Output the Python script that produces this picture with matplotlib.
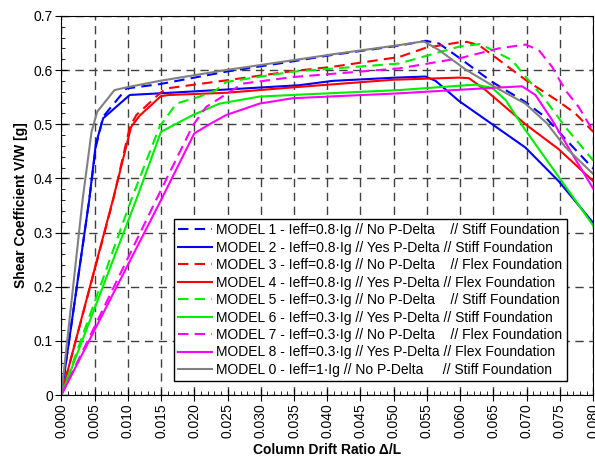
import matplotlib
matplotlib.use("Agg")
import matplotlib.pyplot as plt
from matplotlib.ticker import MultipleLocator, FormatStrFormatter, FuncFormatter

plt.rcParams["font.family"] = ["Liberation Sans", "DejaVu Sans"]

# drift ratio / shear coefficient
m1_x = [0, 0.0042, 0.0052, 0.0063, 0.0098, 0.0148, 0.0248, 0.0348, 0.0408, 0.0508, 0.0548,
        0.0568, 0.0598, 0.0648, 0.0698, 0.0728, 0.0758, 0.080]
m1_y = [0, 0.36, 0.458, 0.514, 0.566, 0.574, 0.597, 0.616, 0.628, 0.645, 0.654,
        0.649, 0.623, 0.578, 0.541, 0.513, 0.473, 0.418]

m2_x = [0, 0.0042, 0.0052, 0.0063, 0.0103, 0.0148, 0.0248, 0.0358, 0.0408, 0.0503, 0.0548,
        0.0563, 0.0598, 0.0648, 0.0698, 0.0748, 0.080]
m2_y = [0, 0.36, 0.464, 0.511, 0.554, 0.557, 0.564, 0.572, 0.580, 0.586, 0.588,
        0.580, 0.543, 0.500, 0.457, 0.395, 0.318]

m3_x = [0, 0.0078, 0.0103, 0.0113, 0.0148, 0.0158, 0.0248, 0.0348, 0.0408, 0.0508, 0.0548,
        0.0598, 0.0610, 0.0628, 0.0648, 0.0698, 0.0748, 0.0773, 0.080]
m3_y = [0, 0.36, 0.495, 0.517, 0.557, 0.566, 0.581, 0.598, 0.606, 0.624, 0.641,
        0.651, 0.652, 0.646, 0.628, 0.582, 0.542, 0.520, 0.486]

m4_x = [0, 0.00775, 0.0105, 0.0118, 0.0150, 0.0163, 0.0248, 0.0348, 0.0498, 0.0598, 0.0613,
        0.0638, 0.0698, 0.0748, 0.080]
m4_y = [0, 0.36, 0.495, 0.516, 0.552, 0.554, 0.558, 0.568, 0.582, 0.586, 0.585,
        0.563, 0.500, 0.454, 0.395]

m5_x = [0, 0.0105, 0.0148, 0.0173, 0.0208, 0.0233, 0.0248, 0.0348, 0.0508, 0.0598, 0.0630,
        0.0648, 0.0678, 0.0698, 0.0728, 0.0758, 0.080]
m5_y = [0, 0.36, 0.496, 0.538, 0.551, 0.563, 0.578, 0.597, 0.612, 0.643, 0.648,
        0.637, 0.618, 0.588, 0.545, 0.495, 0.433]

m6_x = [0, 0.01125, 0.0150, 0.0198, 0.0238, 0.0298, 0.0348, 0.0508, 0.0598, 0.0623, 0.0648,
        0.0668, 0.0698, 0.0748, 0.080]
m6_y = [0, 0.36, 0.486, 0.517, 0.538, 0.551, 0.554, 0.563, 0.571, 0.573, 0.567,
        0.545, 0.489, 0.403, 0.313]

m7_x = [0, 0.01425, 0.0198, 0.0218, 0.0273, 0.0348, 0.0508, 0.0600, 0.0658, 0.0698, 0.0718,
        0.0738, 0.0758, 0.0778, 0.080]
m7_y = [0, 0.36, 0.498, 0.532, 0.575, 0.587, 0.603, 0.622, 0.640, 0.647, 0.637,
        0.606, 0.563, 0.532, 0.487]

m8_x = [0, 0.015, 0.0200, 0.0223, 0.0248, 0.0298, 0.0348, 0.0508, 0.0633, 0.0693, 0.0713,
        0.0738, 0.0768, 0.080]
m8_y = [0, 0.36, 0.483, 0.500, 0.517, 0.538, 0.548, 0.557, 0.566, 0.570, 0.554,
        0.508, 0.446, 0.381]

m0_x = [0, 0.0032, 0.00455, 0.0054, 0.0080, 0.0098, 0.0148, 0.0248, 0.0348, 0.0408, 0.0508,
        0.0545, 0.0568, 0.0608, 0.0653, 0.0698, 0.0730, 0.0758, 0.080]
m0_y = [0, 0.36, 0.486, 0.523, 0.563, 0.568, 0.580, 0.600, 0.618, 0.629, 0.646,
        0.653, 0.637, 0.601, 0.568, 0.538, 0.502, 0.458, 0.408]

labels = [
    "MODEL 1 - Ieff=0.8\u00b7Ig // No P-Delta    // Stiff Foundation",
    "MODEL 2 - Ieff=0.8\u00b7Ig // Yes P-Delta // Stiff Foundation",
    "MODEL 3 - Ieff=0.8\u00b7Ig // No P-Delta    // Flex Foundation",
    "MODEL 4 - Ieff=0.8\u00b7Ig // Yes P-Delta // Flex Foundation",
    "MODEL 5 - Ieff=0.3\u00b7Ig // No P-Delta    // Stiff Foundation",
    "MODEL 6 - Ieff=0.3\u00b7Ig // Yes P-Delta // Stiff Foundation",
    "MODEL 7 - Ieff=0.3\u00b7Ig // No P-Delta    // Flex Foundation",
    "MODEL 8 - Ieff=0.3\u00b7Ig // Yes P-Delta // Flex Foundation",
    "MODEL 0 - Ieff=1\u00b7Ig // No P-Delta     // Stiff Foundation",
]

series = [
    (m1_x, m1_y, "#0000ff", True),
    (m2_x, m2_y, "#0000ff", False),
    (m3_x, m3_y, "#ff0000", True),
    (m4_x, m4_y, "#ff0000", False),
    (m5_x, m5_y, "#00ee00", True),
    (m6_x, m6_y, "#00ee00", False),
    (m7_x, m7_y, "#ff00ff", True),
    (m8_x, m8_y, "#ff00ff", False),
    (m0_x, m0_y, "#808080", False),
]

fig = plt.figure(figsize=(5.95, 4.66), dpi=100)
ax = fig.add_axes([0.103, 0.152, 0.894, 0.814])

for (xs, ys, color, dashed), label in zip(series, labels):
    line, = ax.plot(xs, ys, color=color, lw=1.5, label=label)
    if dashed:
        line.set_dashes((5, 3))

ax.set_xlim(0, 0.08)
ax.set_ylim(0, 0.7)
ax.xaxis.set_major_locator(MultipleLocator(0.005))
ax.xaxis.set_minor_locator(MultipleLocator(0.001))
ax.yaxis.set_major_locator(MultipleLocator(0.1))
ax.yaxis.set_minor_locator(MultipleLocator(0.02))
ax.xaxis.set_major_formatter(FormatStrFormatter("%.3f"))
ax.yaxis.set_major_formatter(FuncFormatter(lambda v, p: f"{v:g}"))
ax.tick_params(axis="both", which="major", direction="inout", length=8, labelsize=10)
ax.tick_params(axis="both", which="minor", direction="in", length=3)
ax.tick_params(axis="x", labelrotation=90, pad=2)
ax.tick_params(axis="y", pad=2)

ax.grid(True, which="major", color="#404040", lw=1, linestyle=(0, (6, 4)))

ax.set_xlabel("Column Drift Ratio \u0394/L", fontsize=10, fontweight="bold", labelpad=3)
ax.set_ylabel("Shear Coefficient V/W [g]", fontsize=10, fontweight="bold")

leg = ax.legend(loc="lower left", bbox_to_anchor=(0.212, 0.037), borderaxespad=0,
                fontsize=10, frameon=True, fancybox=False, framealpha=1,
                edgecolor="black", handlelength=2.4, labelspacing=0.25,
                borderpad=0.3, handletextpad=0.35)
leg.get_frame().set_linewidth(1)

fig.savefig("out.png", dpi=100)
